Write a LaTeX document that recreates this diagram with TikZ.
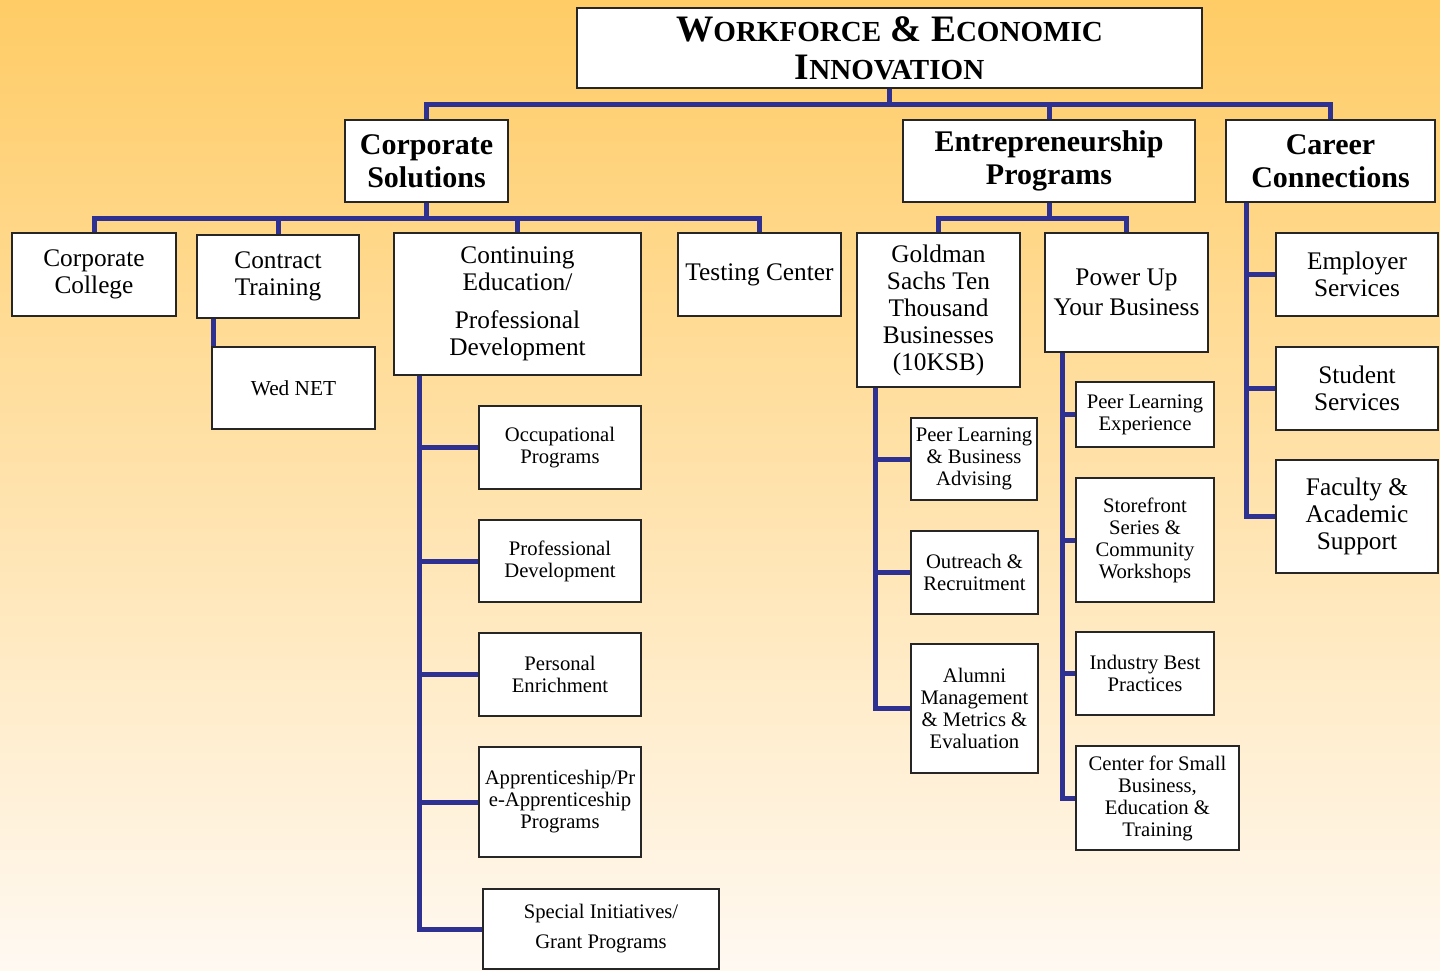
\documentclass[tikz,border=0pt]{standalone}
\usepackage{fontspec}
\setmainfont{Liberation Serif}
\usetikzlibrary{calc}
\definecolor{bgtop}{RGB}{255,204,102}
\definecolor{bgmid}{RGB}{255,228,175}
\definecolor{bgbot}{RGB}{255,249,242}
\definecolor{navy}{RGB}{46,49,146}
\newcommand\smc[1]{{\fontsize{21.8}{28.5}\selectfont #1}}
\newcommand\obox[7]{\node[#1,minimum width={(#5-#3)*0.75pt},minimum height={(#6-#4)*0.75pt}] (#2) at ({(#3+#5)/2},{(#4+#6)/2}) {#7};}
\begin{document}
\begin{tikzpicture}[x=0.75pt,y=-0.75pt,
  box/.style={draw=black!85, line width=1.4pt, fill=white, inner sep=0pt, align=center},
  ttl/.style={box, font=\fontsize{28}{28.5}\selectfont\bfseries},
  lvA/.style={box, font=\fontsize{22.5}{24.75}\selectfont\bfseries},
  lvB/.style={box, font=\fontsize{19}{20.25}\selectfont},
  lvC/.style={box, font=\fontsize{15.5}{16.5}\selectfont},
  conn/.style={draw=navy, line width=3.75pt, line join=miter}]
\useasboundingbox (0,0) rectangle (1440,971);
\shade[top color=bgtop, middle color=bgmid, bottom color=bgbot] (0,0) rectangle (1440,971);
\coordinate (b0) at (0,104);
\coordinate (b1) at (0,218);
% boxes
\obox{ttl}{title}{577}{8}{1202}{88}{W\smc{ORKFORCE} \& E\smc{CONOMIC}\\I\smc{NNOVATION}}
\obox{lvA}{cs}{345}{120}{508}{202}{Corporate\\Solutions}
\obox{lvA}{ent}{903}{120}{1195}{202}{Entrepreneurship\\Programs}
\obox{lvA}{car}{1226}{120}{1435}{202}{Career\\Connections}
\obox{lvB}{corpcol}{12}{233}{176}{316}{Corporate\\College}
\obox{lvB}{ct}{197}{235}{359}{318}{Contract\\Training}
\obox{lvB}{ced}{394}{233}{641}{375}{Continuing\\Education/\\[8pt]Professional\\Development}
\obox{lvB}{test}{678}{233}{841}{316}{Testing Center}
\obox{box,font=\fontsize{16}{17}\selectfont}{wed}{212}{347}{375}{429}{Wed NET}
\obox{lvC}{occ}{479}{406}{641}{489}{Occupational\\Programs}
\obox{lvC}{prof}{479}{520}{641}{602}{Professional\\Development}
\obox{lvC}{pers}{479}{633}{641}{716}{Personal\\Enrichment}
\obox{lvC}{appr}{479}{747}{641}{857}{Apprenticeship/Pr\\e-Apprenticeship\\Programs}
\obox{lvC}{spec}{483}{889}{719}{969}{Special Initiatives/\\[6pt]Grant Programs}
\obox{lvB}{gold}{857}{233}{1020}{387}{Goldman\\Sachs Ten\\Thousand\\Businesses\\(10KSB)}
\obox{lvB}{pow}{1045}{233}{1208}{352}{Power Up\\[2.25pt]Your Business}
\obox{lvC}{peer}{911}{418}{1037}{500}{Peer Learning\\\& Business\\Advising}
\obox{lvC}{outr}{911}{531}{1038}{614}{Outreach \&\\Recruitment}
\obox{lvC}{alum}{911}{644}{1038}{773}{Alumni\\Management\\\& Metrics \&\\Evaluation}
\obox{lvC}{ple}{1076}{382}{1214}{447}{Peer Learning\\Experience}
\obox{lvC}{store}{1076}{478}{1214}{602}{Storefront\\Series \&\\Community\\Workshops}
\obox{lvC}{ind}{1076}{632}{1214}{715}{Industry Best\\Practices}
\obox{lvC}{csb}{1076}{746}{1239}{850}{Center for Small\\Business,\\Education \&\\Training}
\obox{lvB}{emp}{1276}{233}{1438}{316}{Employer\\Services}
\obox{lvB}{stu}{1276}{347}{1438}{430}{Student\\Services}
\obox{lvB}{fac}{1276}{460}{1438}{573}{Faculty \&\\Academic\\Support}
% trunk coordinates
\coordinate (cedtrunk) at ($(ced.south west)+(26,0)$);
\coordinate (goldtrunk) at ($(gold.south west)+(19,0)$);
\coordinate (powtrunk) at ($(pow.south west)+(18,0)$);
\coordinate (cartrunk) at ($(car.south west)+(21,0)$);
% level 0 -> 1
\draw[conn] (title.south) -- (title.south |- b0);
\draw[conn] (cs.north) -- (cs.north |- b0) -- (car.north |- b0) -- (car.north);
\draw[conn] (ent.north) -- (ent.north |- b0);
% corporate solutions
\draw[conn] (cs.south) -- (cs.south |- b1);
\draw[conn] (corpcol.north) -- (corpcol.north |- b1) -- (test.north |- b1) -- (test.north);
\draw[conn] (ct.north) -- (ct.north |- b1);
\draw[conn] (ced.north) -- (ced.north |- b1);
\draw[conn] ([xshift=1.5pt]wed.north west) -- ([xshift=1.5pt]wed.north west |- ct.south);
\draw[conn] (cedtrunk) |- (spec.west);
\foreach \n in {occ,prof,pers,appr} \draw[conn] (cedtrunk |- \n.west) -- (\n.west);
% entrepreneurship
\draw[conn] (ent.south) -- (ent.south |- b1);
\draw[conn] (gold.north) -- (gold.north |- b1) -- (pow.north |- b1) -- (pow.north);
\draw[conn] (goldtrunk) |- (alum.west);
\foreach \n in {peer,outr} \draw[conn] (goldtrunk |- \n.west) -- (\n.west);
\draw[conn] (powtrunk) |- (csb.west);
\foreach \n in {ple,store,ind} \draw[conn] (powtrunk |- \n.west) -- (\n.west);
% career connections
\draw[conn] (cartrunk) |- (fac.west);
\foreach \n in {emp,stu} \draw[conn] (cartrunk |- \n.west) -- (\n.west);
\end{tikzpicture}
\end{document}
